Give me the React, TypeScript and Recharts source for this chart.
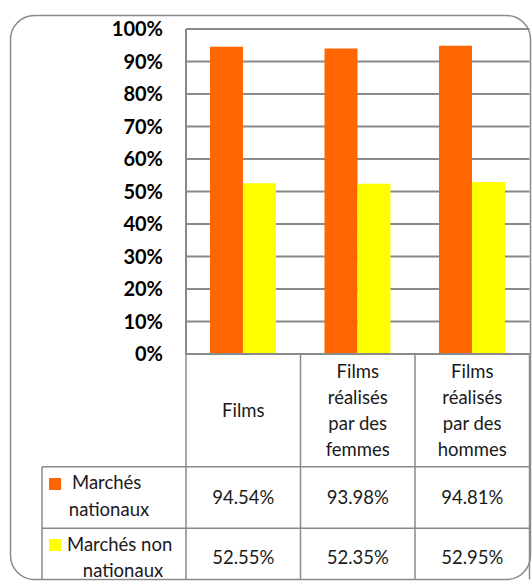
import { BarChart, Bar, XAxis, YAxis, CartesianGrid } from 'recharts'

// categories, shown as multi-line headers in the data table
const categories = ['Films', 'Films réalisés par des femmes', 'Films réalisés par des hommes']
const categoryLines = [['Films'], ['Films', 'réalisés', 'par des', 'femmes'], ['Films', 'réalisés', 'par des', 'hommes']]

const seriesNames = ['Marchés nationaux', 'Marchés non nationaux']
const nationaux = [94.54, 93.98, 94.81]
const nonNationaux = [52.55, 52.35, 52.95]

const yTicks = [0, 10, 20, 30, 40, 50, 60, 70, 80, 90, 100]

const ORANGE = '#ff6600'
const YELLOW = '#ffff00'
const LINE = '#8a8a8a'
const FONT = 'Lato, "Open Sans", sans-serif'

const data = categories.map((c, i) => ({
  cat: c,
  nat: nationaux[i],
  nonNat: nonNationaux[i],
}))

const W = 532
const H = 581
const PLOT_LEFT = 186
const PLOT_RIGHT = 529.5
const PLOT_TOP = 29
const PLOT_BOTTOM = 354
const ROW1 = 466.7
const ROW2 = 528.3
const TABLE_LEFT = 42
const FRAME_BOTTOM = 579.5

function TableTick(props: any) {
  const { x, index } = props
  const lines = categoryLines[index] ?? []
  const step = 26.2
  const mid = 410.5
  const start = mid - ((lines.length - 1) * step) / 2
  return (
    <g fontFamily={FONT} fontSize={18.5} fontWeight={400} fill="#1a1a1a">
      {lines.map((l, k) => (
        <text key={k} x={x} y={start + k * step} textAnchor="middle" dy="0.35em">
          {l}
        </text>
      ))}
      <text x={x} y={497.5} textAnchor="middle" dy="0.35em">
        {nationaux[index].toFixed(2)}%
      </text>
      <text x={x} y={558} textAnchor="middle" dy="0.35em">
        {nonNationaux[index].toFixed(2)}%
      </text>
    </g>
  )
}

export default function App() {
  const bandW = (PLOT_RIGHT - PLOT_LEFT) / categories.length
  const cols = categories.map((_, i) => PLOT_LEFT + bandW * (i + 1))

  return (
    <div style={{ position: 'absolute', left: 0, top: 0, width: W, height: H, background: '#fff' }}>
      {/* outer rounded frame */}
      <svg width={W} height={H} style={{ position: 'absolute', left: 0, top: 0 }}>
        <rect x={10.5} y={15.5} width={520} height={FRAME_BOTTOM - 15.5} rx={24} fill="#fff" stroke={LINE} strokeWidth={1.5} />
      </svg>

      <div style={{ position: 'absolute', left: 0, top: 0 }}>
        <BarChart
          width={W}
          height={H}
          data={data}
          margin={{ top: PLOT_TOP, right: W - PLOT_RIGHT, left: PLOT_LEFT - 60, bottom: H - PLOT_BOTTOM - 30 }}
          barGap={0}
        >
          <CartesianGrid vertical={false} stroke={LINE} strokeWidth={2} />
          <YAxis
            width={60}
            domain={[0, 100]}
            ticks={yTicks}
            tickFormatter={(v: number) => `${v}%`}
            axisLine={{ stroke: LINE, strokeWidth: 2 }}
            tickLine={false}
            tickSize={0}
            tickMargin={23}
            tick={{ fill: '#000', fontSize: 20, fontWeight: 700, fontFamily: FONT }}
          />
          <XAxis
            dataKey="cat"
            height={30}
            axisLine={false}
            tickLine={false}
            tickSize={0}
            tickMargin={0}
            interval={0}
            tick={(p: any) => <TableTick {...p} />}
          />
          <Bar dataKey="nat" name={seriesNames[0]} fill={ORANGE} barSize={33} isAnimationActive={false} />
          <Bar dataKey="nonNat" name={seriesNames[1]} fill={YELLOW} barSize={33} isAnimationActive={false} />
        </BarChart>
      </div>

      {/* data table lines + legend keys */}
      <svg width={W} height={H} style={{ position: 'absolute', left: 0, top: 0, pointerEvents: 'none' }}>
        <g stroke={LINE} strokeWidth={1.5} fill="none">
          <line x1={PLOT_LEFT} y1={PLOT_BOTTOM} x2={PLOT_RIGHT} y2={PLOT_BOTTOM} strokeWidth={2} />
          <line x1={PLOT_LEFT} y1={PLOT_BOTTOM} x2={PLOT_LEFT} y2={FRAME_BOTTOM} />
          {cols.map((cx, i) => (
            <line key={i} x1={cx} y1={PLOT_BOTTOM} x2={cx} y2={FRAME_BOTTOM} />
          ))}
          <line x1={TABLE_LEFT} y1={ROW1} x2={PLOT_RIGHT} y2={ROW1} />
          <line x1={TABLE_LEFT} y1={ROW2} x2={PLOT_RIGHT} y2={ROW2} />
          <line x1={TABLE_LEFT} y1={ROW1} x2={TABLE_LEFT} y2={FRAME_BOTTOM} />
        </g>
        <g fontFamily={FONT} fontSize={18.5} fontWeight={400} fill="#1a1a1a">
          <rect x={49} y={478} width={12} height={12} fill={ORANGE} />
          <text x={72} y={483} dy="0.35em">Marchés</text>
          <text x={109} y={510} dy="0.35em" textAnchor="middle">nationaux</text>
          <rect x={49} y={539} width={12} height={12} fill={YELLOW} />
          <text x={67} y={545} dy="0.35em">Marchés non</text>
          <text x={123} y={571} dy="0.35em" textAnchor="middle">nationaux</text>
        </g>
      </svg>
    </div>
  )
}
